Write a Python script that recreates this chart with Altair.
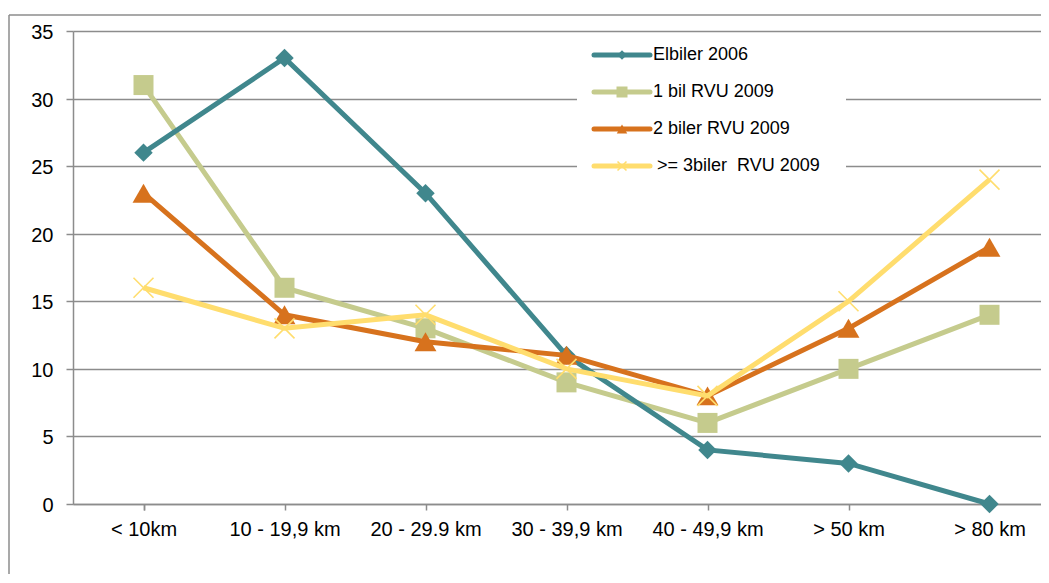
import altair as alt
import pandas as pd

categories = ["< 10km", "10 - 19,9 km", "20 - 29.9 km", "30 - 39,9 km",
              "40 - 49,9 km", "> 50 km", "> 80 km"]
series_names = ["Elbiler 2006", "1 bil RVU 2009", "2 biler RVU 2009", ">= 3biler  RVU 2009"]
elbiler_2006 = [26, 33, 23, 11, 4, 3, 0]
bil1_rvu_2009 = [31, 16, 13, 9, 6, 10, 14]
biler2_rvu_2009 = [23, 14, 12, 11, 8, 13, 19]
biler3_rvu_2009 = [16, 13, 14, 10, 8, 15, 24]
y_ticks = [0, 5, 10, 15, 20, 25, 30, 35]

values_by_series = {
    series_names[0]: elbiler_2006,
    series_names[1]: bil1_rvu_2009,
    series_names[2]: biler2_rvu_2009,
    series_names[3]: biler3_rvu_2009,
}

colors = {
    series_names[0]: "#40878D",
    series_names[1]: "#C5CB8D",
    series_names[2]: "#D7721D",
    series_names[3]: "#FFDD6E",
}
X_PATH = "M-1,-1L1,1M-1,1L1,-1"
marker = {
    series_names[0]: dict(shape="diamond", size=340, filled=True),
    series_names[1]: dict(shape="square", size=400, filled=True),
    series_names[2]: dict(shape="triangle-up", size=480, filled=True),
    series_names[3]: dict(shape=X_PATH, size=400, filled=False, strokeWidth=1.6),
}
legend_marker_size = {
    series_names[0]: 90,
    series_names[1]: 121,
    series_names[2]: 110,
    series_names[3]: 80,
}

FONT = "Liberation Sans"
W, H = 967, 473
BOTTOM = 70

xscale = alt.Scale(domain=categories, range=[0, 987], paddingInner=0, paddingOuter=0)
yscale = alt.Scale(domain=[0, 35], nice=False)

def series_layers(name):
    df = pd.DataFrame({"cat": categories, "value": values_by_series[name], "series": name})
    enc = dict(
        x=alt.X("cat:N", scale=xscale, sort=categories, axis=alt.Axis(title=None)),
        y=alt.Y("value:Q", scale=yscale, axis=alt.Axis(title=None, values=y_ticks)),
    )
    base = alt.Chart(df)
    line = base.mark_line(color=colors[name], strokeWidth=5).encode(**enc)
    m = marker[name]
    pt_kwargs = dict(shape=m["shape"], size=m["size"], filled=m["filled"], opacity=1)
    if m["filled"]:
        pt_kwargs.update(fill=colors[name], strokeWidth=0)
    else:
        pt_kwargs.update(stroke=colors[name], strokeWidth=m["strokeWidth"], fillOpacity=0)
    pts = base.mark_point(**pt_kwargs).encode(**enc)
    return [line, pts]

# drawing order observed in the reference (bottom -> top)
draw_order = [series_names[1], series_names[0], series_names[2], series_names[3]]
data_layers = []
for n in draw_order:
    data_layers += series_layers(n)

one = pd.DataFrame({"a": [0]})
border_color = "#8C8C8C"
border_left = alt.Chart(one).mark_rule(color=border_color, strokeWidth=1.5).encode(
    x=alt.value(-64), y=alt.value(-16), y2=alt.value(H + BOTTOM))
border_top = alt.Chart(one).mark_rule(color=border_color, strokeWidth=1.5).encode(
    x=alt.value(-64), x2=alt.value(W + 2), y=alt.value(-16))

legend_box = alt.Chart(one).mark_rect(color="white").encode(
    x=alt.value(504), x2=alt.value(773), y=alt.value(9), y2=alt.value(154))

legend_layers = []
LEG_Y0, LEG_STEP = 24, 37
for i, n in enumerate(series_names):
    ly = LEG_Y0 + i * LEG_STEP
    ldf = pd.DataFrame({"label": [n.replace("  ", "\u00a0 ")]})
    lb = alt.Chart(ldf)
    legend_layers.append(lb.mark_rule(color=colors[n], strokeWidth=5, strokeCap="round").encode(
        x=alt.value(521), x2=alt.value(577), y=alt.value(ly)))
    m = marker[n]
    kw = dict(shape=m["shape"], size=legend_marker_size[n], filled=m["filled"], opacity=1)
    if m["filled"]:
        kw.update(fill=colors[n], strokeWidth=0)
    else:
        kw.update(stroke=colors[n], strokeWidth=1.6, fillOpacity=0)
    legend_layers.append(lb.mark_point(**kw).encode(x=alt.value(549), y=alt.value(ly)))
    dx = 584 if i == 3 else 580
    legend_layers.append(lb.mark_text(align="left", baseline="middle", font=FONT,
                                      fontSize=18, color="black").encode(
        x=alt.value(dx), y=alt.value(ly), text="label:N"))

chart = alt.layer(
    border_left, border_top, *data_layers, legend_box, *legend_layers
).properties(
    width=W, height=H,
    autosize=alt.AutoSizeParams(type="none"),
    padding={"left": 65, "top": 23, "right": 1, "bottom": BOTTOM},
    background="white",
).configure_view(
    stroke=None
).configure_axisX(
    domainColor=border_color, domainWidth=1.5,
    tickColor=border_color, tickWidth=1.5, tickSize=6, tickBand="extent",
    labelFont=FONT, labelFontSize=20, labelColor="black", labelPadding=9,
    labelAngle=0, grid=False,
).configure_axisY(
    domainColor=border_color, domainWidth=1.5,
    tickColor=border_color, tickWidth=1.5, tickSize=7,
    labelFont=FONT, labelFontSize=20, labelColor="black", labelPadding=13,
    labelOffset=1.5,
    grid=True, gridColor=border_color, gridWidth=1.5,
)

chart.save("out.html", embed_options={"renderer": "svg", "actions": False})
